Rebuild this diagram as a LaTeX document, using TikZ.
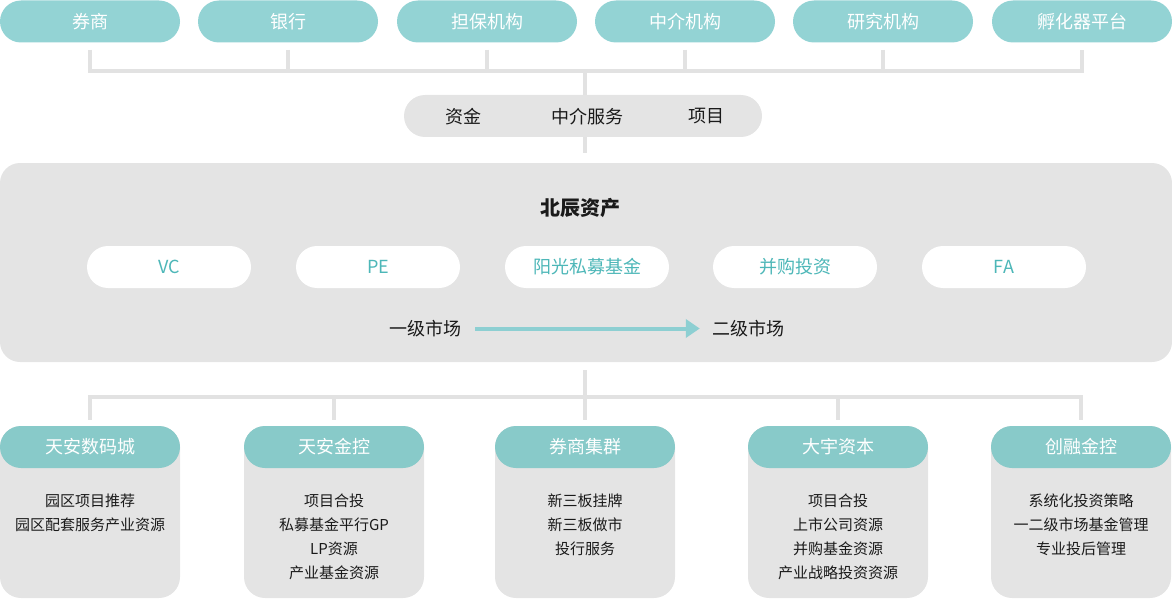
\documentclass[tikz,border=0pt]{standalone}
\usepackage{fontspec}
\setmainfont{Noto Sans CJK SC}
\usetikzlibrary{arrows.meta}

\definecolor{tealtop}{HTML}{93D3D4}
\definecolor{tealhead}{HTML}{88CAC9}
\definecolor{tealtext}{HTML}{4DB7B8}
\definecolor{tealarrow}{HTML}{8DCFD2}
\definecolor{panelgray}{HTML}{E4E4E4}
\definecolor{linegray}{HTML}{E2E2E2}
\definecolor{textdark}{HTML}{1A1A1A}

\begin{document}
\begin{tikzpicture}[x=1pt, y=-1pt,
  topbox/.style={fill=tealtop, text=white, rounded corners=21pt, minimum width=180pt, minimum height=42pt, inner sep=0pt, font=\fontsize{18}{22}\selectfont},
  midbox/.style={fill=panelgray, rounded corners=21pt, minimum width=358pt, minimum height=42pt, inner sep=0pt},
  midtext/.style={text=textdark, inner sep=0pt, font=\fontsize{18}{22}\selectfont},
  panel/.style={fill=panelgray, rounded corners=20pt, minimum width=1172pt, minimum height=199pt, inner sep=0pt},
  fund/.style={fill=white, text=tealtext, rounded corners=21pt, minimum width=164pt, minimum height=42pt, inner sep=0pt, font=\fontsize{18}{22}\selectfont},
  cardhead/.style={fill=tealhead, text=white, rounded corners=21pt, minimum width=180pt, minimum height=42pt, inner sep=0pt, font=\fontsize{18}{22}\selectfont},
  cardbody/.style={fill=panelgray, rounded corners=21pt, minimum width=180pt, minimum height=172pt, inner sep=0pt},
  cardtext/.style={anchor=north, align=center, text=textdark, inner sep=0pt, font=\fontsize{15}{24}\selectfont},
  link/.style={draw=linegray, line width=4pt, line join=miter},
  flow/.style={draw=tealarrow, line width=4pt, -{Triangle[length=14pt, width=18pt]}}]
  \useasboundingbox (0,0) rectangle (1172,599);

  % partners
  \node[topbox] (t1) at (90,21.5) {券商};
  \node[topbox] (t2) at (288,21.5) {银行};
  \node[topbox] (t3) at (487,21.5) {担保机构};
  \node[topbox] (t4) at (685,21.5) {中介机构};
  \node[topbox] (t5) at (883,21.5) {研究机构};
  \node[topbox] (t6) at (1082,21.5) {孵化器平台};

  \coordinate (tb) at (585,71);
  \draw[link] ([yshift=-7pt]t1.south) -- (t1.south |- tb) -- (t6.south |- tb) -- ([yshift=-7pt]t6.south);
  \draw[link] ([yshift=-7pt]t2.south) -- (t2.south |- tb);
  \draw[link] ([yshift=-7pt]t3.south) -- (t3.south |- tb);
  \draw[link] ([yshift=-7pt]t4.south) -- (t4.south |- tb);
  \draw[link] ([yshift=-7pt]t5.south) -- (t5.south |- tb);

  % what flows in
  \node[midbox] (mid) at (583,116) {};
  \node[midtext] (cap) at (463,116.5) {资金};
  \node[midtext] (svc) at (587,116.5) {中介服务};
  \node[midtext] (prj) at (706,116.5) {项目};
  \draw[link] (tb) -- (tb |- mid.north);

  % core
  \node[panel] (core) at (586,262.5) {};
  \draw[link] (mid.south -| tb) -- ([yshift=10pt]core.north -| tb);
  \node[midtext, font=\fontsize{20}{24}\selectfont\bfseries] (bc) at (580,208) {北辰资产};

  \node[fund] (vc) at (169,267) {VC};
  \node[fund] (pe) at (378,267) {PE};
  \node[fund] (yg) at (587,267) {阳光私募基金};
  \node[fund] (mna) at (795,267) {并购投资};
  \node[fund] (fa) at (1004,267) {FA};

  \node[midtext] (lv1) at (425,328.5) {一级市场};
  \node[midtext] (lv2) at (748,328.5) {二级市场};
  \draw[flow] ([xshift=14pt]lv1.east) -- ([xshift=-12pt]lv2.west);

  % members
  \node[cardbody] (c1) at (90,512) {};
  \node[cardbody] (c2) at (334,512) {};
  \node[cardbody] (c3) at (585,512) {};
  \node[cardbody] (c4) at (838,512) {};
  \node[cardbody] (c5) at (1081,512) {};
  \node[cardhead] (h1) at (90,447) {天安数码城};
  \node[cardhead] (h2) at (334,447) {天安金控};
  \node[cardhead] (h3) at (585,447) {券商集群};
  \node[cardhead] (h4) at (838,447) {大宇资本};
  \node[cardhead] (h5) at (1081,447) {创融金控};

  \coordinate (bb) at (585,397);
  \draw[link] ([yshift=-8pt]core.south -| bb) -- ([yshift=6pt]h3.north);
  \draw[link] ([yshift=6pt]h1.north) -- (h1.north |- bb) -- (h5.north |- bb) -- ([yshift=6pt]h5.north);
  \draw[link] (h2.north |- bb) -- ([yshift=6pt]h2.north);
  \draw[link] (h4.north |- bb) -- ([yshift=6pt]h4.north);

  \node[cardtext] (d1) at (90,493.5) {园区项目推荐\\园区配套服务产业资源};
  \node[cardtext] (d2) at (334,493.5) {项目合投\\私募基金平行GP\\LP资源\\产业基金资源};
  \node[cardtext] (d3) at (585,493.5) {新三板挂牌\\新三板做市\\投行服务};
  \node[cardtext] (d4) at (838,493.5) {项目合投\\上市公司资源\\并购基金资源\\产业战略投资资源};
  \node[cardtext] (d5) at (1081,493.5) {系统化投资策略\\一二级市场基金管理\\专业投后管理};
\end{tikzpicture}
\end{document}
